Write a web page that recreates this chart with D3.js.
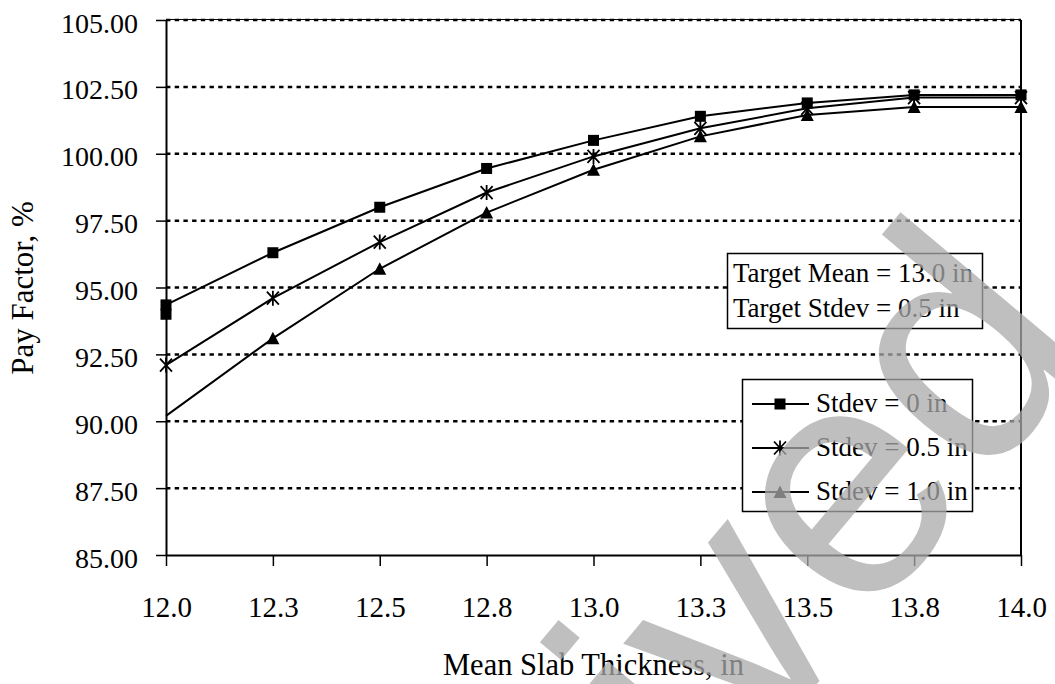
<!DOCTYPE html>
<html><head><meta charset="utf-8">
<script src="https://cdn.jsdelivr.net/npm/d3@7"></script>
<style>
body{margin:0;background:#fff}
svg{display:block}
text{font-family:"Liberation Serif","Times New Roman",serif;fill:#000}
</style>
</head><body>
<svg id="chart" width="1055" height="684"></svg>
<script>
// Mean slab thickness categories (in)
const thicknessLabels = ["12.0", "12.3", "12.5", "12.8", "13.0", "13.3", "13.5", "13.8", "14.0"];
// Pay factor (%) for each thickness standard deviation
const payStdev0  = [94.35, 96.3, 98.0, 99.45, 100.5, 101.4, 101.9, 102.2, 102.2];
const payStdev05 = [92.1, 94.6, 96.7, 98.55, 99.9, 100.95, 101.7, 102.1, 102.1];
const payStdev10 = [90.2, 93.1, 95.7, 97.8, 99.4, 100.65, 101.45, 101.75, 101.75];
// second square plotted at the first thickness
const payStdev0Extra = [{ label: "12.0", value: 94.0 }];
const yTicks = [85, 87.5, 90, 92.5, 95, 97.5, 100, 102.5, 105];
const seriesNames = ["Stdev = 0 in", "Stdev = 0.5 in", "Stdev = 1.0 in"];
const targetNotes = ["Target Mean = 13.0 in", "Target Stdev = 0.5 in"];
const stampText = "Archived";

const svg = d3.select("#chart");
const plotLeft = 166, plotRight = 1021, plotTop = 20, plotBottom = 555;
const serif = "Liberation Serif, Times New Roman, serif";

const x = d3.scalePoint().domain(thicknessLabels).range([plotLeft, plotRight]);
const y = d3.scaleLinear().domain([85, 105]).range([plotBottom, plotTop]);

// dashed horizontal gridlines
svg.append("g").selectAll("line").data(yTicks.filter(v => v > 85)).join("line")
  .attr("x1", plotLeft).attr("x2", plotRight)
  .attr("y1", d => y(d)).attr("y2", d => y(d))
  .attr("stroke", "#000").attr("stroke-width", 2.5).attr("stroke-dasharray", "4.4,4.3");

// plot frame: thin top, solid right
svg.append("line").attr("x1", plotLeft).attr("x2", plotRight).attr("y1", plotTop - 0.5).attr("y2", plotTop - 0.5)
  .attr("stroke", "#000").attr("stroke-width", 1);
svg.append("line").attr("x1", plotRight).attr("x2", plotRight).attr("y1", plotTop).attr("y2", plotBottom)
  .attr("stroke", "#000").attr("stroke-width", 2);

// axes
const yAxis = svg.append("g").attr("transform", `translate(${plotLeft},0)`)
  .call(d3.axisLeft(y).tickValues(yTicks).tickFormat(d3.format(".2f")).tickSize(10).tickSizeOuter(0).tickPadding(18));
yAxis.selectAll("text").attr("font-size", 28).attr("font-family", serif).attr("fill", "#000").attr("dy", 12);

const xAxis = svg.append("g").attr("transform", `translate(0,${plotBottom})`)
  .call(d3.axisBottom(x).tickSize(11).tickSizeOuter(0));
xAxis.selectAll("text").attr("font-size", 29).attr("font-family", serif)
  .attr("fill", "#000").attr("y", 61.5).attr("dy", 0);

[yAxis, xAxis].forEach(a => {
  a.select(".domain").attr("stroke", "#000").attr("stroke-width", 2);
  a.selectAll(".tick line").attr("stroke", "#000").attr("stroke-width", 1.5);
});

// marker shapes
const markers = {
  square: (g) => g.append("rect").attr("x", -5.5).attr("y", -5.5).attr("width", 11).attr("height", 11).attr("fill", "#000"),
  star: (g) => g.append("path").attr("d", "M-6,-6.5L6,6.5M-6,6.5L6,-6.5M0,-7.5L0,7.5")
    .attr("stroke", "#000").attr("stroke-width", 1.8).attr("fill", "none"),
  triangle: (g) => g.append("path").attr("d", "M0,-6.5L6.5,6L-6.5,6Z").attr("fill", "#000")
};

const series = [
  { name: seriesNames[0], values: payStdev0, marker: "square", markerFrom: 0 },
  { name: seriesNames[1], values: payStdev05, marker: "star", markerFrom: 0 },
  { name: seriesNames[2], values: payStdev10, marker: "triangle", markerFrom: 1 }
];

const line = d3.line().x(d => x(d.label)).y(d => y(d.value));

series.forEach(s => {
  const pts = thicknessLabels.map((label, i) => ({ label, value: s.values[i] }));
  svg.append("path").datum(pts).attr("d", line)
    .attr("fill", "none").attr("stroke", "#000").attr("stroke-width", 2);
  pts.slice(s.markerFrom).forEach(p => {
    markers[s.marker](svg.append("g").attr("transform", `translate(${x(p.label)},${y(p.value)})`));
  });
});
payStdev0Extra.forEach(p => {
  markers.square(svg.append("g").attr("transform", `translate(${x(p.label)},${y(p.value)})`));
});

// target note box
const note = svg.append("g");
note.append("rect").attr("x", 727.5).attr("y", 253.5).attr("width", 255).attr("height", 75)
  .attr("fill", "#fff").attr("stroke", "#000").attr("stroke-width", 1.5);
note.selectAll("text").data(targetNotes).join("text")
  .attr("x", 733).attr("y", (d, i) => 282 + i * 34.5).attr("font-size", 27).text(d => d);

// legend
const legend = svg.append("g");
legend.append("rect").attr("x", 742.5).attr("y", 379.5).attr("width", 230).attr("height", 132)
  .attr("fill", "#fff").attr("stroke", "#000").attr("stroke-width", 1.5);
series.forEach((s, i) => {
  const cy = 404 + i * 44;
  legend.append("line").attr("x1", 752).attr("x2", 809).attr("y1", cy).attr("y2", cy)
    .attr("stroke", "#000").attr("stroke-width", 2);
  markers[s.marker](legend.append("g").attr("transform", `translate(780,${cy})`));
  legend.append("text").attr("x", 816).attr("y", cy + 8).attr("font-size", 27).text(s.name);
});

// axis titles
svg.append("text").attr("x", (plotLeft + plotRight) / 2).attr("y", 675).attr("text-anchor", "middle")
  .attr("font-size", 30.5).text("Mean Slab Thickness, in");
svg.append("text").attr("transform", "translate(33,288) rotate(-90)").attr("text-anchor", "middle")
  .attr("font-size", 31).text("Pay Factor, %");

// translucent diagonal stamp laid over the whole chart
svg.append("text")
  .attr("transform", "translate(1098,349) rotate(-50)")
  .attr("text-anchor", "end")
  .attr("font-size", 330)
  .style("font-family", "'Liberation Sans', Arial, sans-serif")
  .style("fill", "#aaa")
  .attr("fill-opacity", 0.75)
  .text(stampText);
</script>
</body></html>
